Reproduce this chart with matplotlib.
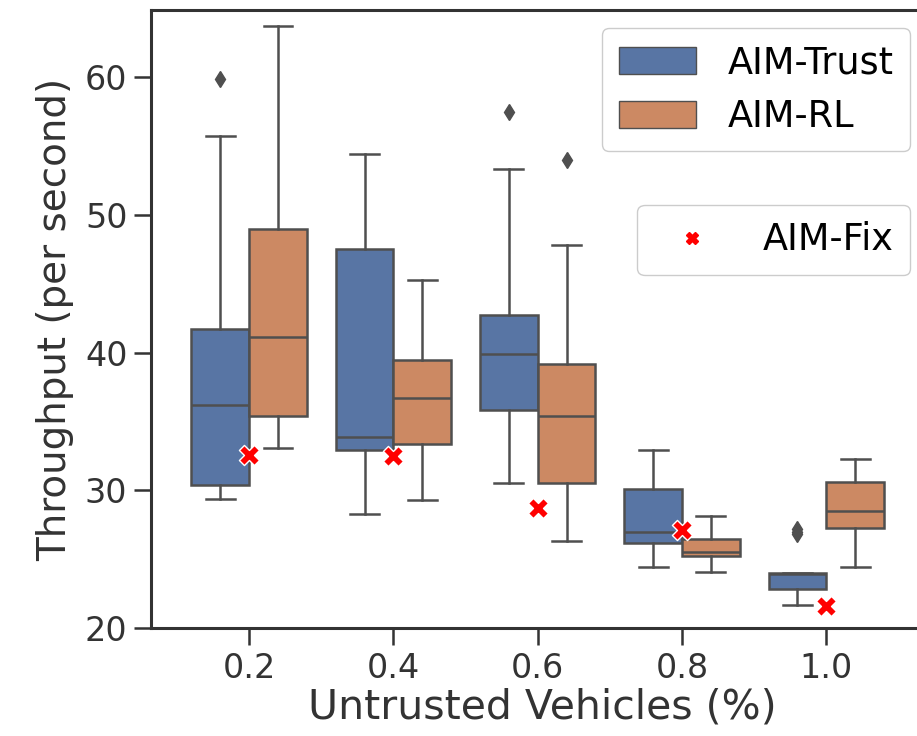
import matplotlib.pyplot as plt
import numpy as np
from matplotlib.patches import Patch
from matplotlib.lines import Line2D

# значения
categories = ['0.2', '0.4', '0.6', '0.8', '1.0']

trust_q1 = [30.4, 32.9, 35.8, 26.2, 22.8]
trust_med = [36.2, 33.9, 39.9, 27.0, 23.9]
trust_q3 = [41.7, 47.5, 42.7, 30.1, 24.0]
trust_lo = [29.4, 28.3, 30.5, 24.4, 21.7]
trust_hi = [55.7, 54.4, 53.3, 32.9, 24.0]
trust_fliers = [[59.9], [], [57.5], [], [26.8, 27.0, 27.2]]

rl_q1 = [35.4, 33.4, 30.5, 25.2, 27.3]
rl_med = [41.1, 36.7, 35.4, 25.5, 28.5]
rl_q3 = [49.0, 39.5, 39.2, 26.5, 30.6]
rl_lo = [33.1, 29.3, 26.3, 24.1, 24.4]
rl_hi = [63.7, 45.3, 47.8, 28.1, 32.3]
rl_fliers = [[], [], [54.0], [], []]

fix_values = [32.6, 32.5, 28.7, 27.1, 21.6]

blue = '#5875a4'
orange = '#cc8963'
gray = '#4f4f4f'
text_col = '#333333'


def make_stats(q1, med, q3, lo, hi, fl):
    out = []
    for i in range(len(q1)):
        out.append({'q1': q1[i], 'med': med[i], 'q3': q3[i],
                    'whislo': lo[i], 'whishi': hi[i], 'fliers': fl[i]})
    return out


fig = plt.figure(figsize=(9.17, 7.36), dpi=100)
ax = fig.add_axes([0.1647, 0.1467, 0.8544, 0.8397])

x = np.arange(len(categories))
lw = 1.8
common = dict(widths=0.4, patch_artist=True, manage_ticks=False,
              medianprops=dict(color=gray, linewidth=lw),
              whiskerprops=dict(color=gray, linewidth=lw),
              capprops=dict(color=gray, linewidth=lw),
              flierprops=dict(marker='d', markerfacecolor=gray, markeredgecolor=gray,
                              markersize=8))

ax.bxp(make_stats(trust_q1, trust_med, trust_q3, trust_lo, trust_hi, trust_fliers),
       positions=x - 0.2, boxprops=dict(facecolor=blue, edgecolor=gray, linewidth=lw),
       **common)
ax.bxp(make_stats(rl_q1, rl_med, rl_q3, rl_lo, rl_hi, rl_fliers),
       positions=x + 0.2, boxprops=dict(facecolor=orange, edgecolor=gray, linewidth=lw),
       **common)

ax.scatter(x, fix_values, marker='X', s=210, color='red', edgecolor='white',
           linewidth=1.0, zorder=5)

ax.set_xlim(-0.68, 4.75)
ax.set_ylim(20, 64.88)
ax.set_xticks(x)
ax.set_xticklabels(categories)
ax.set_yticks([20, 30, 40, 50, 60])
ax.tick_params(labelsize=24, length=12, width=1.8, color=text_col, labelcolor=text_col, pad=5)
for s in ax.spines.values():
    s.set_linewidth(2.2)
    s.set_color(text_col)

ax.set_xlabel('Untrusted Vehicles (%)', fontsize=29.5, color=text_col, labelpad=2)
ax.set_ylabel('Throughput (per second)', fontsize=28, color=text_col, labelpad=8)

h1 = [Patch(facecolor=blue, edgecolor=gray, label='AIM-Trust'),
      Patch(facecolor=orange, edgecolor=gray, label='AIM-RL')]
leg1 = ax.legend(handles=h1, loc='upper right', bbox_to_anchor=(0.9924, 0.962),
                 bbox_transform=fig.transFigure, fontsize=26.4, borderaxespad=0,
                 handlelength=2.1, handleheight=0.77, handletextpad=0.87,
                 framealpha=1, labelspacing=0.45, borderpad=0.45)
ax.add_artist(leg1)
h2 = [Line2D([], [], marker='X', color='red', linestyle='none', markersize=8,
             label='AIM-Fix')]
ax.legend(handles=h2, loc='upper right', bbox_to_anchor=(0.9924, 0.7215),
          bbox_transform=fig.transFigure, fontsize=26.4, borderaxespad=0,
          handlelength=2.1, handletextpad=0.87, framealpha=1, borderpad=0.45)

fig.savefig('out.png', dpi=100)
